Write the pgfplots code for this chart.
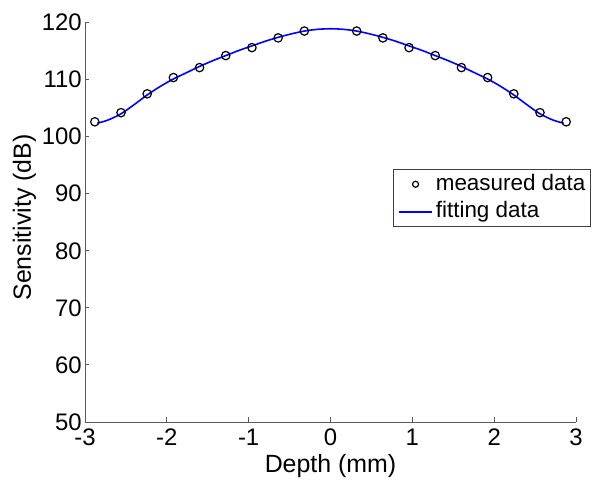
\documentclass[border=0pt]{standalone}
\usepackage{fontspec}
\setmainfont{Liberation Sans}
\usepackage{pgfplots}
\pgfplotsset{compat=1.18}
\begin{document}
\begin{tikzpicture}
\begin{axis}[
  scale only axis,
  width=491bp, height=399.5bp,
  xmin=-3, xmax=3, ymin=50, ymax=120,
  axis x line*=bottom, axis y line*=left,
  axis line style={-, black!65, line width=0.9bp},
  xtick={-3,-2,-1,0,1,2,3},
  xticklabels={-3,-2,-1,0,1,2,3},
  ytick={50,60,70,80,90,100,110,120},
  yticklabels={50,60,70,80,90,100,110,120},
  tick align=inside,
  major tick length=4.5bp,
  every tick/.style={black!65, line width=0.9bp},
  tick label style={font=\fontsize{24}{28}\selectfont, inner sep=0pt},
  xticklabel style={anchor=base, yshift=-24bp},
  yticklabel style={anchor=east, xshift=-3bp},
  xlabel={Depth (mm)},
  ylabel={Sensitivity (dB)},
  every axis x label/.style={at={(axis description cs:0.5,0)}, anchor=base, yshift=-51bp, font=\fontsize{25}{29}\selectfont},
  every axis y label/.style={at={(axis description cs:0,0.512)}, xshift=-60.5bp, anchor=center, rotate=90, font=\fontsize{25}{29}\selectfont},
  legend style={at={(axis description cs:0.627,0.633)}, anchor=north west,
    draw=black!75, line width=0.8bp, inner xsep=5bp, inner ysep=4bp,
    font=\fontsize{22.5}{26}\selectfont,
    nodes={inner sep=0pt, text height=16.5bp, text depth=5bp},
    row sep=6bp, column sep=3bp},
  legend cell align=left,
  legend image code/.code={\draw[mark repeat=2,mark phase=2,#1] plot coordinates {(0bp,0bp) (16.5bp,0bp) (33bp,0bp)};},
]
\addplot[only marks, mark=o, mark size=4.2bp, mark options={black, line width=1.2bp},
  legend image post style={mark size=3bp}]
coordinates {
(-2.88,102.6) (-2.56,104.2) (-2.24,107.5) (-1.92,110.35) (-1.60,112.1) (-1.28,114.2)
(-0.96,115.6) (-0.64,117.3) (-0.32,118.5)
(0.32,118.5) (0.64,117.3) (0.96,115.6) (1.28,114.2) (1.60,112.1) (1.92,110.35)
(2.24,107.5) (2.56,104.2) (2.88,102.6)
};
\addlegendentry{measured data}
\addplot[blue, line width=1.6bp, smooth, no marks] coordinates {
(-2.85,102.35) (-2.72,102.9) (-2.56,104.0) (-2.40,105.6) (-2.24,107.3) (-2.08,108.8)
(-1.92,110.1) (-1.76,111.2) (-1.60,112.3) (-1.44,113.3) (-1.28,114.2) (-1.12,115.1)
(-0.96,115.9) (-0.80,116.7) (-0.64,117.4) (-0.48,118.0) (-0.32,118.5) (-0.16,118.8)
(0,118.9)
(0.16,118.8) (0.32,118.5) (0.48,118.0) (0.64,117.4) (0.80,116.7) (0.96,115.9)
(1.12,115.1) (1.28,114.2) (1.44,113.3) (1.60,112.3) (1.76,111.2) (1.92,110.1)
(2.08,108.8) (2.24,107.3) (2.40,105.6) (2.56,104.0) (2.72,102.9) (2.85,102.35)
};
\addlegendentry{fitting data}
\end{axis}
\path[use as bounding box] ([shift={(-85bp,-70bp)}]current axis.south west) rectangle ([shift={(28bp,22.5bp)}]current axis.north east);
\end{tikzpicture}
\end{document}
